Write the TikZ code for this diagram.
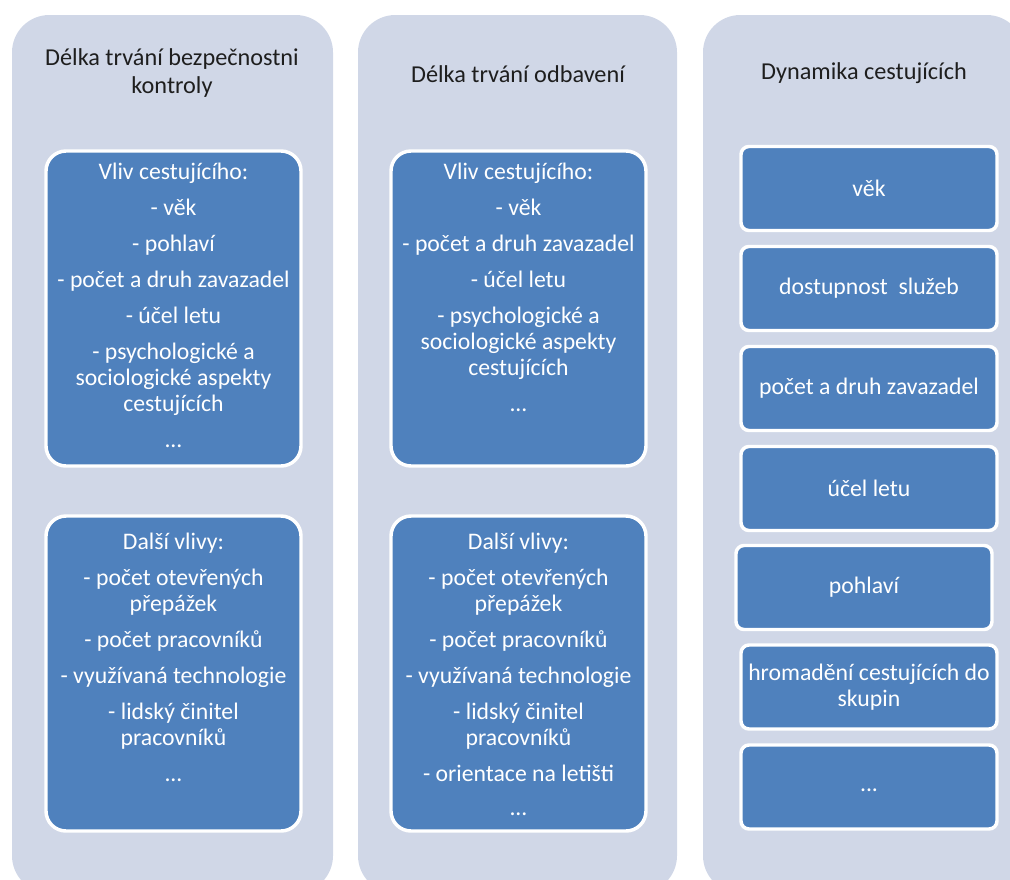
\documentclass[tikz,border=0pt]{standalone}
\usepackage{fontspec}
\setmainfont{Carlito}
\definecolor{panelbg}{RGB}{208,215,231}
\definecolor{boxblue}{RGB}{79,129,189}
\definecolor{titlegrey}{RGB}{30,30,30}
\tikzset{
  panel/.style={fill=panelbg, draw=none, rounded corners=28pt},
  bigbox/.style={rectangle, fill=boxblue, draw=white, line width=2.6pt, rounded corners=15pt,
    minimum width=191.25pt, minimum height=236.25pt, inner sep=0pt},
  smallbox/.style={rectangle, fill=boxblue, draw=white, line width=2.6pt, rounded corners=6pt,
    minimum width=192pt, minimum height=63pt, inner sep=0pt, text=white, align=center,
    font=\fontsize{17.8}{19.5}\selectfont},
  boxtext/.style={anchor=north, inner sep=0pt, text=white, align=center,
    font=\fontsize{17.8}{19.5}\selectfont},
  title/.style={inner sep=0pt, text=titlegrey, align=center,
    font=\fontsize{18.2}{21}\selectfont}
}
\begin{document}
\begin{tikzpicture}[x=0.75pt,y=-0.75pt]
\useasboundingbox (0,0) rectangle (1010,879);
\clip (0,0) rectangle (1010,879);
% panels
\path[panel] (12,15) rectangle (333,893);
\path[panel] (358,15) rectangle (677,893);
\path[panel] (703,15) rectangle (1024,893);
% titles
\node[title] (t1) at (172,73) {Délka trvání bezpečnostni\\kontroly};
\node[title] (t2) at (518,74) {Délka trvání odbavení};
\node[title] (t3) at (864,73) {Dynamika cestujících};
% panel 1 boxes
\node[bigbox] (a1) at (173.5,308.5) {};
\node[boxtext] (a1t) at (173.5,162.5) {Vliv cestujícího:\\[7.5pt]
- věk\\[7.5pt]
- pohlaví\\[7.5pt]
- počet a druh zavazadel\\[7.5pt]
- účel letu\\[7.5pt]
- psychologické a\\sociologické aspekty\\cestujících\\[7.5pt]
...};
\node[bigbox] (a2) at (173.5,673.5) {};
\node[boxtext] (a2t) at (173.5,532.5) {Další vlivy:\\[7.5pt]
- počet otevřených\\přepážek\\[7.5pt]
- počet pracovníků\\[7.5pt]
- využívaná technologie\\[7.5pt]
- lidský činitel\\pracovníků\\[7.5pt]
...};
% panel 2 boxes
\node[bigbox] (b1) at (518.5,308.5) {};
\node[boxtext] (b1t) at (518.5,162.5) {Vliv cestujícího:\\[7.5pt]
- věk\\[7.5pt]
- počet a druh zavazadel\\[7.5pt]
- účel letu\\[7.5pt]
- psychologické a\\sociologické aspekty\\cestujících\\[7.5pt]
...};
\node[bigbox] (b2) at (518.5,673.5) {};
\node[boxtext] (b2t) at (518.5,532.5) {Další vlivy:\\[7.5pt]
- počet otevřených\\přepážek\\[7.5pt]
- počet pracovníků\\[7.5pt]
- využívaná technologie\\[7.5pt]
- lidský činitel\\pracovníků\\[7.5pt]
- orientace na letišti\\[6pt]
...};
% panel 3 boxes
\node[smallbox] (c1) at (869,188.5) {věk};
\node[smallbox] (c2) at (869,288.5) {dostupnost\ \ služeb};
\node[smallbox] (c3) at (869,388.5) {počet a druh zavazadel};
\node[smallbox] (c4) at (869,488.5) {účel letu};
\node[smallbox] (c5) at (864,587.5) {pohlaví};
\node[smallbox] (c6) at (869,687) {hromadění cestujících do\\skupin};
\node[smallbox] (c7) at (869,787) {\smash{\raisebox{-3pt}{...}}};
\end{tikzpicture}
\end{document}
